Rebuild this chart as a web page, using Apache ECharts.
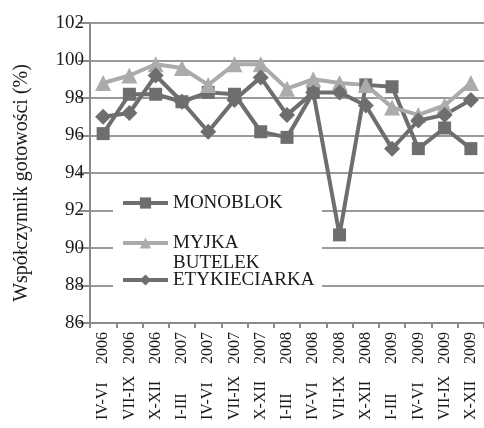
<!DOCTYPE html>
<html>
<head>
<meta charset="utf-8">
<script src="https://cdn.jsdelivr.net/npm/echarts@6/dist/echarts.min.js"></script>
<style>
  html, body { margin: 0; padding: 0; background: #fff; }
  #chart { width: 484px; height: 428px; }
</style>
</head>
<body>
<div id="chart"></div>
<script>
const periods = ['IV-VI', 'VII-IX', 'X-XII', 'I-III', 'IV-VI', 'VII-IX', 'X-XII', 'I-III',
                 'IV-VI', 'VII-IX', 'X-XII', 'I-III', 'IV-VI', 'VII-IX', 'X-XII'];
const years = ['2006', '2006', '2006', '2007', '2007', '2007', '2007', '2008',
               '2008', '2008', '2008', '2009', '2009', '2009', '2009'];
const monoblok = [96.1, 98.2, 98.2, 97.8, 98.3, 98.2, 96.2, 95.9, 98.3, 90.7, 98.7, 98.6, 95.3, 96.4, 95.3];
const myjka = [98.8, 99.2, 99.8, 99.6, 98.7, 99.8, 99.8, 98.5, 99.0, 98.8, 98.7, 97.5, 97.1, 97.6, 98.8];
const etykieciarka = [97.0, 97.2, 99.2, 97.8, 96.2, 97.9, 99.1, 97.1, 98.3, 98.3, 97.6, 95.3, 96.8, 97.1, 97.9];
const yTicks = { min: 86, max: 102, step: 2 };

const categories = periods.map((p, i) => p + ' ' + years[i]);

const chart = echarts.init(document.getElementById('chart'));
const font = 'Liberation Serif';
const dark = '#6e6e6e';
const light = '#ababab';

const legendText = { fontFamily: font, fontSize: 19, color: '#1a1a1a', lineHeight: 20 };

const mkSeries = (name, data, color, symbol, size) => ({
    name,
    type: 'line',
    data,
    symbol,
    symbolSize: size,
    showAllSymbol: true,
    lineStyle: { color, width: 4 },
    itemStyle: { color },
    animation: false
});

const legendBase = {
    left: 121, padding: 0, itemWidth: 45, itemHeight: 14,
    lineStyle: { width: 4 }
};

const option = {
    animation: false,
    grid: { left: 90, top: 23, width: 400, height: 300 },
    graphic: [{
        type: 'rect',
        shape: { x: 113, y: 182, width: 209, height: 116 },
        style: { fill: '#fff' },
        z: 3
    }],
    legend: [
        Object.assign({}, legendBase, {
            data: ['MONOBLOK'], top: 193, textStyle: legendText
        }),
        Object.assign({}, legendBase, {
            data: ['MYJKA BUTELEK'], top: 213,
            // blank first line keeps "MYJKA" level with the icon
            formatter: () => ' \nMYJKA\nBUTELEK',
            textStyle: legendText
        }),
        Object.assign({}, legendBase, {
            data: ['ETYKIECIARKA'], top: 270, textStyle: legendText
        })
    ],
    xAxis: {
        type: 'category',
        data: categories,
        boundaryGap: true,
        axisLine: { lineStyle: { color: '#8a8a8a', width: 2 } },
        axisTick: { show: true, length: 5, lineStyle: { color: '#8a8a8a', width: 2 } },
        axisLabel: {
            interval: 0,
            rotate: 90,
            margin: 9,
            formatter: (v, i) => '{p|' + periods[i] + '}{y|' + years[i] + '}',
            rich: {
                p: { fontFamily: font, fontSize: 16, color: '#1a1a1a', width: 56, align: 'left' },
                y: { fontFamily: font, fontSize: 16, color: '#1a1a1a' }
            }
        }
    },
    yAxis: {
        type: 'value',
        min: yTicks.min,
        max: yTicks.max,
        interval: yTicks.step,
        name: 'Współczynnik gotowości (%)',
        nameLocation: 'middle',
        nameGap: 58,
        nameTextStyle: { fontFamily: font, fontSize: 20, color: '#1a1a1a', padding: [0, 20, 0, 0] },
        axisLine: { show: true, lineStyle: { color: '#8a8a8a', width: 2 } },
        axisTick: { show: true, length: 12, lineStyle: { color: '#8a8a8a', width: 2 } },
        axisLabel: { fontFamily: font, fontSize: 19, color: '#1a1a1a', margin: 6 },
        splitLine: { lineStyle: { color: '#9a9a9a', width: 2 } }
    },
    series: [
        mkSeries('MONOBLOK', monoblok, dark, 'rect', 13),
        mkSeries('MYJKA BUTELEK', myjka, light, 'triangle', 16),
        mkSeries('ETYKIECIARKA', etykieciarka, dark, 'diamond', 16)
    ]
};

chart.setOption(option);
</script>
</body>
</html>
